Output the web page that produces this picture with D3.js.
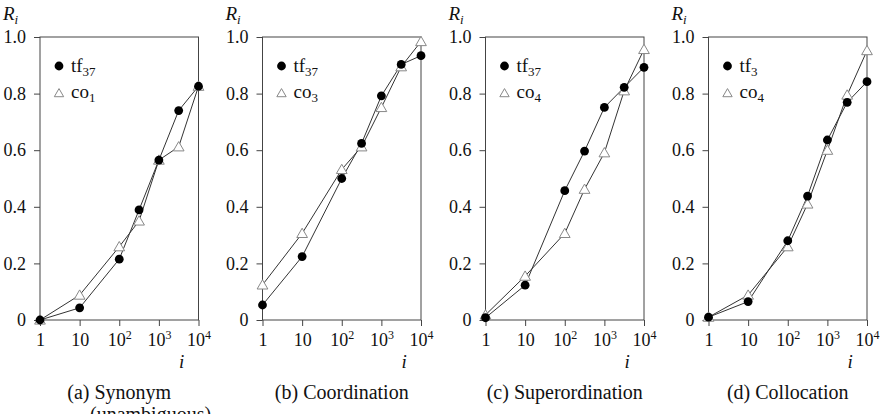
<!DOCTYPE html>
<html>
<head>
<meta charset="utf-8">
<script src="https://cdn.jsdelivr.net/npm/d3@7"></script>
<style>
  body { margin: 0; background: #fff; }
  svg { display: block; }
  svg text { font-family: "Liberation Serif", "Times New Roman", "DejaVu Serif", serif !important; }
</style>
</head>
<body>
<div id="chart"></div>
<script>
// rank positions (x) shared by every panel
const ranks = [1, 10, 100, 316, 1000, 3162, 10000];
const xTicks = [1, 10, 100, 1000, 10000];
const yTicks = [0, 0.2, 0.4, 0.6, 0.8, 1.0];

const captions = ["(a) Synonym", "(b) Coordination", "(c) Superordination", "(d) Collocation"];
const captionLine2 = ["(unambiguous)", "", "", ""];

// legend labels: [base, subscript]
const tfLabels = [["tf", "37"], ["tf", "37"], ["tf", "37"], ["tf", "3"]];
const coLabels = [["co", "1"], ["co", "3"], ["co", "4"], ["co", "4"]];

// R_i values
const tfSynonym = [0.0, 0.043, 0.215, 0.389, 0.565, 0.740, 0.826];
const coSynonym = [0.0, 0.088, 0.259, 0.350, 0.565, 0.612, 0.826];
const tfCoord = [0.053, 0.224, 0.500, 0.624, 0.792, 0.903, 0.934];
const coCoord = [0.124, 0.306, 0.532, 0.612, 0.751, 0.895, 0.984];
const tfSuper = [0.008, 0.123, 0.457, 0.597, 0.751, 0.822, 0.893];
const coSuper = [0.018, 0.155, 0.306, 0.462, 0.591, 0.810, 0.956];
const tfColl = [0.010, 0.065, 0.280, 0.438, 0.636, 0.769, 0.842];
const coColl = [0.010, 0.088, 0.259, 0.410, 0.600, 0.795, 0.952];

const tfSeries = [tfSynonym, tfCoord, tfSuper, tfColl];
const coSeries = [coSynonym, coCoord, coSuper, coColl];

const W = 883, H = 414;
const panelLeft = [40, 262.5, 485.5, 708.5];
const plotW = 158.5;
const plotTop = 37, plotBottom = 320;

const svg = d3.select("#chart").append("svg")
    .attr("width", W)
    .attr("height", H);

const y = d3.scaleLinear().domain([0, 1]).range([plotBottom, plotTop]);

const axisColor = "#444";
const lineColor = "#333";

captions.forEach((cap, p) => {
    let left = panelLeft[p];
    let x = d3.scaleLog().domain([1, 10000]).range([left, left + plotW]);

    let g = svg.append("g");

    // frame
    g.append("rect")
        .attr("x", left).attr("y", plotTop)
        .attr("width", plotW).attr("height", plotBottom - plotTop)
        .attr("fill", "none")
        .attr("stroke", axisColor)
        .attr("stroke-width", 1);

    // y axis
    let yAxis = d3.axisLeft(y).tickValues(yTicks).tickSize(6).tickPadding(8)
        .tickFormat(d => d === 0 ? "0" : d3.format(".1f")(d));
    let yg = g.append("g").attr("transform", "translate(" + left + ",0)").call(yAxis);
    yg.select(".domain").remove();
    yg.selectAll(".tick line").attr("stroke", axisColor);
    yg.selectAll(".tick text")
        .attr("font-size", 18)
        .attr("fill", "#111");

    // x axis
    let xAxis = d3.axisBottom(x).tickValues(xTicks).tickSize(6).tickPadding(5).tickFormat("");
    let xg = g.append("g").attr("transform", "translate(0," + plotBottom + ")").call(xAxis);
    xg.select(".domain").remove();
    xg.selectAll(".tick line").attr("stroke", axisColor);
    xg.selectAll(".tick").each(function(d) {
        let t = d3.select(this).append("text")
            .attr("y", 26)
            .attr("text-anchor", "middle")
            .attr("font-size", 18)
            .attr("fill", "#111");
        let e = Math.round(Math.log10(d));
        if (e < 2) {
            t.text(String(d));
        } else {
            t.append("tspan").text("10");
            t.append("tspan").attr("dy", -7).attr("font-size", 12).text(e);
        }
    });

    // axis titles
    let rl = g.append("text")
        .attr("x", left - 37).attr("y", 20)
        .attr("font-size", 19).attr("font-style", "italic").attr("fill", "#111");
    rl.append("tspan").text("R");
    rl.append("tspan").attr("dy", 4).attr("font-size", 13).text("i");

    g.append("text")
        .attr("x", left + 139).attr("y", 368)
        .attr("font-size", 19).attr("font-style", "italic").attr("fill", "#111")
        .text("i");

    // captions
    g.append("text")
        .attr("x", left + plotW / 2).attr("y", 399)
        .attr("text-anchor", "middle")
        .attr("font-size", 20).attr("fill", "#111")
        .text(cap);
    if (captionLine2[p]) {
        g.append("text")
            .attr("x", left + 50).attr("y", 421)
            .attr("font-size", 20).attr("fill", "#111")
            .text(captionLine2[p]);
    }

    // lines
    let line = d3.line()
        .x((d, i) => x(ranks[i]))
        .y(d => y(d));

    g.append("path").datum(coSeries[p])
        .attr("d", line)
        .attr("fill", "none")
        .attr("stroke", lineColor)
        .attr("stroke-width", 1);
    g.append("path").datum(tfSeries[p])
        .attr("d", line)
        .attr("fill", "none")
        .attr("stroke", lineColor)
        .attr("stroke-width", 1);

    let tri = d3.symbol().type(d3.symbolTriangle).size(50);

    g.selectAll(".tri").data(coSeries[p]).enter().append("path")
        .attr("class", "tri")
        .attr("d", tri)
        .attr("transform", (d, i) => "translate(" + x(ranks[i]) + "," + (y(d) + 1) + ")")
        .attr("fill", "#fff")
        .attr("stroke", "#888")
        .attr("stroke-width", 1);

    g.selectAll(".dot").data(tfSeries[p]).enter().append("circle")
        .attr("class", "dot")
        .attr("cx", (d, i) => x(ranks[i]))
        .attr("cy", d => y(d))
        .attr("r", 4.4)
        .attr("fill", "#000");

    // legend
    let lx = left + 19;
    g.append("circle").attr("cx", lx).attr("cy", 66).attr("r", 4.4).attr("fill", "#000");
    let t1 = g.append("text").attr("x", lx + 12).attr("y", 72)
        .attr("font-size", 19).attr("fill", "#111");
    t1.append("tspan").text(tfLabels[p][0]);
    t1.append("tspan").attr("dy", 4).attr("font-size", 13).text(tfLabels[p][1]);

    g.append("path")
        .attr("d", d3.symbol().type(d3.symbolTriangle).size(38))
        .attr("transform", "translate(" + lx + ",94)")
        .attr("fill", "#fff").attr("stroke", "#888").attr("stroke-width", 1);
    let t2 = g.append("text").attr("x", lx + 12).attr("y", 98)
        .attr("font-size", 19).attr("fill", "#111");
    t2.append("tspan").text(coLabels[p][0]);
    t2.append("tspan").attr("dy", 4).attr("font-size", 13).text(coLabels[p][1]);
});
</script>
</body>
</html>
